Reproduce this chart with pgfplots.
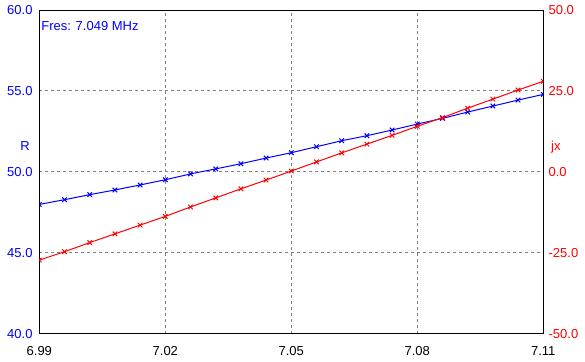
\documentclass[border=0pt]{standalone}
\usepackage{pgfplots}
\pgfplotsset{compat=1.18}
\usepackage{pgfplotstable}
\usepackage{fontspec}
\setmainfont{Liberation Sans}
\pgfplotstableread{
f R jx
6.990 48.00 -27.2
6.996 48.29 -24.6
7.002 48.60 -21.8
7.008 48.89 -19.1
7.014 49.20 -16.4
7.020 49.52 -13.7
7.026 49.88 -10.8
7.032 50.19 -8.0
7.038 50.51 -5.2
7.044 50.86 -2.5
7.050 51.19 0.3
7.056 51.56 3.1
7.062 51.93 5.9
7.068 52.24 8.6
7.074 52.59 11.3
7.080 52.96 14.1
7.086 53.31 16.8
7.092 53.70 19.7
7.098 54.07 22.5
7.104 54.44 25.3
7.110 54.79 28.0
}\data
\begin{document}
\fontsize{9.75pt}{11.7pt}\selectfont
\begin{tikzpicture}
\path[use as bounding box] (-29.5pt,-21pt) rectangle (409.3pt,250.5pt);
\pgfplotsset{
  common/.style={
    width=378pt, height=243pt, scale only axis,
    xmin=6.99, xmax=7.11,
    major tick length=0pt,
    tick style={draw=none},
    ticklabel style={font=\fontsize{9.75pt}{11.7pt}\selectfont, inner sep=0pt},
    axis line style={line width=0.75pt, black},
    clip mode=individual,
    clip marker paths=true,
  }
}
\begin{axis}[common,
  ymin=40, ymax=60,
  xtick={6.99,7.02,7.05,7.08,7.11},
  xticklabels={6.99,7.02,7.05,7.08,7.11},
  ytick={40,45,50,55,60},
  yticklabels={40.0,45.0,50.0,55.0,60.0},
  yticklabel style={text=blue, anchor=east, xshift=-4.9pt},
  xticklabel style={anchor=north, yshift=-9pt},
  grid=major,
  grid style={gray, line width=0.75pt, dash pattern=on 2.25pt off 2.25pt},
]
\addplot[blue, line width=0.75pt, mark=x, mark size=2.4pt] table[x=f, y=R] {\data};
\node[text=blue, anchor=base west, font=\fontsize{9.75pt}{11.7pt}\selectfont, inner sep=0pt, xshift=1.3pt, yshift=-15.5pt] at (rel axis cs:0,1) {Fres: 7.049 MHz};
\node[text=blue, anchor=base, font=\fontsize{9.75pt}{11.7pt}\selectfont, inner sep=0pt, xshift=-10.7pt] at (rel axis cs:0,0.565) {R};
\node[text=red, anchor=base, font=\fontsize{9.75pt}{11.7pt}\selectfont, inner sep=0pt, xshift=9.5pt] at (rel axis cs:1,0.565) {jx};
\end{axis}
\begin{axis}[common,
  ymin=-50, ymax=50,
  axis y line*=right,
  axis x line=none,
  ytick={-50,-25,0,25,50},
  yticklabels={-50.0,-25.0,0.0,25.0,50.0},
  yticklabel style={text=red, anchor=west, xshift=3.8pt},
]
\addplot[red, line width=0.75pt, mark=x, mark size=2.4pt] table[x=f, y=jx] {\data};
\end{axis}
\end{tikzpicture}
\end{document}
